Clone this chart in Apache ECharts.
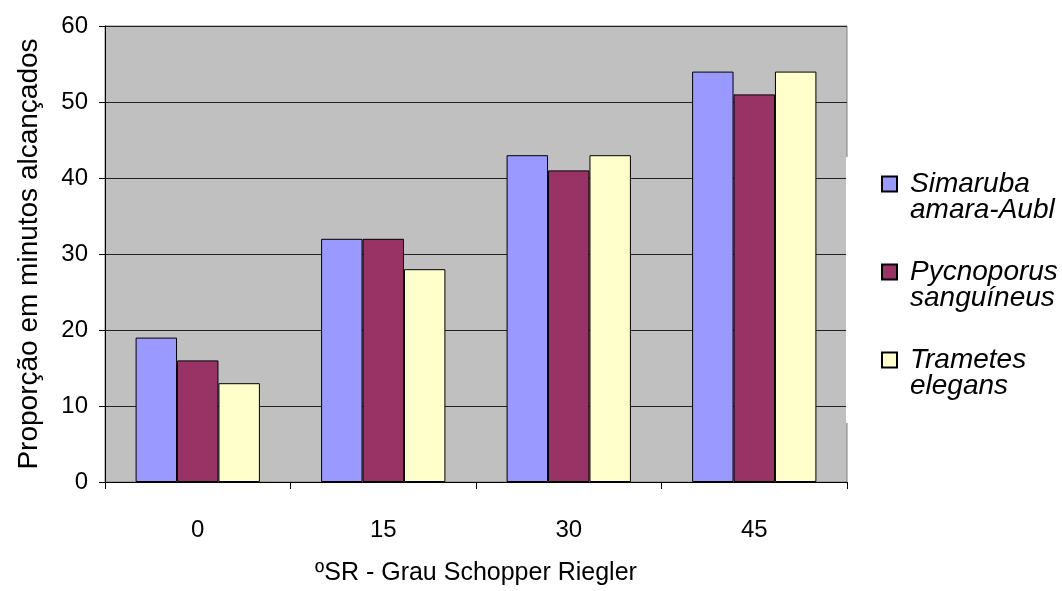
<!DOCTYPE html>
<html>
<head>
<meta charset="utf-8">
<script src="https://cdn.jsdelivr.net/npm/echarts@6/dist/echarts.min.js"></script>
<style>html,body{margin:0;padding:0;background:#fff;}#c{width:1062px;height:591px;}</style>
</head>
<body>
<div id="c"></div>
<script>
const categories = ['0', '15', '30', '45'];
const seriesNames = ['Simaruba\namara-Aubl', 'Pycnoporus\nsanguíneus', 'Trametes\nelegans'];
const simaruba = [19, 32, 43, 54];
const pycnoporus = [16, 32, 41, 51];
const trametes = [13, 28, 43, 54];
const colors = ['#9999FF', '#993366', '#FFFFCC'];
const yTicks = [0, 10, 20, 30, 40, 50, 60];

const FONT = 'Liberation Sans, Arial, sans-serif';
const chart = echarts.init(document.getElementById('c'));
const values = [simaruba, pycnoporus, trametes];
const legendText = { fontFamily: FONT, fontSize: 28, fontStyle: 'italic', color: '#000', lineHeight: 26 };
chart.setOption({
  animation: false,
  backgroundColor: '#fff',
  textStyle: { fontFamily: FONT },
  grid: {
    left: 105, right: 215, top: 26, bottom: 102,
    show: true, backgroundColor: '#C0C0C0', borderColor: '#808080', borderWidth: 1
  },
  legend: {
    orient: 'vertical',
    left: 876, top: 139,
    icon: 'rect',
    itemWidth: 15, itemHeight: 15,
    itemGap: 8,
    data: seriesNames,
    formatter: function (name) {
      return '{a| }\n' + name.split('\n').map(s => '{a|' + s + '}').join('\n');
    },
    textStyle: Object.assign({}, legendText, {
      rich: { a: Object.assign({}, legendText, { padding: [0, 0, 0, 8] }) }
    })
  },
  xAxis: {
    type: 'category',
    data: categories,
    name: 'ºSR - Grau Schopper Riegler',
    nameLocation: 'middle',
    nameGap: 79,
    nameTextStyle: { fontSize: 25, color: '#000', fontFamily: FONT },
    axisLine: { lineStyle: { color: '#000', width: 1 } },
    axisTick: { show: true, length: 7, lineStyle: { color: '#000' } },
    axisLabel: { fontSize: 24, color: '#000', margin: 36, fontFamily: FONT }
  },
  yAxis: {
    type: 'value',
    min: yTicks[0], max: yTicks[yTicks.length - 1], interval: 10,
    name: 'Proporção em minutos alcançados',
    nameLocation: 'middle',
    nameGap: 62,
    nameTextStyle: { fontSize: 28, color: '#000', fontFamily: FONT },
    axisLine: { show: true, lineStyle: { color: '#000', width: 1 } },
    axisTick: { show: true, length: 6, lineStyle: { color: '#000' } },
    axisLabel: { fontSize: 24, color: '#000', margin: 17, fontFamily: FONT },
    splitLine: { show: true, lineStyle: { color: '#222', width: 1 } }
  },
  series: seriesNames.map((n, i) => ({
    name: n,
    type: 'bar',
    data: values[i],
    barGap: '0%',
    barCategoryGap: '33%',
    itemStyle: { color: colors[i], borderColor: '#000', borderWidth: 1 }
  })),
  graphic: [{
    type: 'rect', z: 100,
    shape: { x: 846, y: 157, width: 4, height: 266 },
    style: { fill: '#fff' }
  }]
});
</script>
</body>
</html>
